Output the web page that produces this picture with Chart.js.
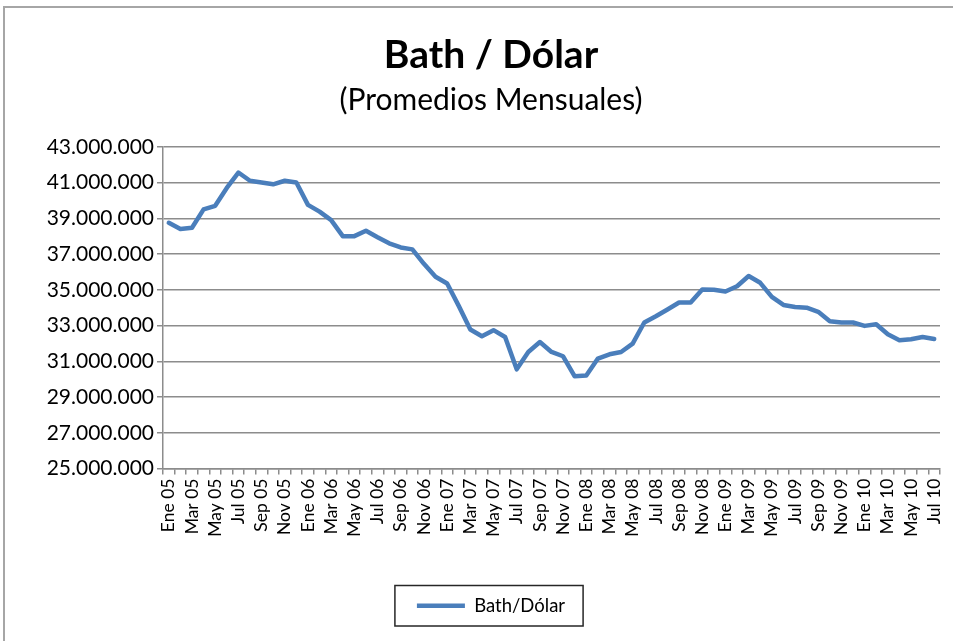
<!DOCTYPE html>
<html>
<head>
<meta charset="utf-8">
<script src="https://cdn.jsdelivr.net/npm/chart.js@4.4.1/dist/chart.umd.min.js"></script>
<style>
  html, body { margin: 0; padding: 0; background: #fff; overflow: hidden; }
  body { width: 953px; height: 641px; position: relative; }
  #frame { position: absolute; left: 3px; top: 6px; width: 1100px; height: 800px;
           border-left: 2px solid #a6a6a6; border-top: 2px solid #a6a6a6; }
  #wrap { position: absolute; left: 4px; top: 7px; width: 974px; height: 634px; }
</style>
</head>
<body>
<div id="frame"></div>
<div id="wrap"><canvas id="chart"></canvas></div>
<script>
/* Bath / Dólar, promedios mensuales Ene 05 - Jul 10 */

const months = [
    'Ene 05', 'Feb 05', 'Mar 05', 'Abr 05', 'May 05', 'Jun 05', 'Jul 05', 'Ago 05', 'Sep 05', 'Oct 05', 'Nov 05', 'Dic 05',
    'Ene 06', 'Feb 06', 'Mar 06', 'Abr 06', 'May 06', 'Jun 06', 'Jul 06', 'Ago 06', 'Sep 06', 'Oct 06', 'Nov 06', 'Dic 06',
    'Ene 07', 'Feb 07', 'Mar 07', 'Abr 07', 'May 07', 'Jun 07', 'Jul 07', 'Ago 07', 'Sep 07', 'Oct 07', 'Nov 07', 'Dic 07',
    'Ene 08', 'Feb 08', 'Mar 08', 'Abr 08', 'May 08', 'Jun 08', 'Jul 08', 'Ago 08', 'Sep 08', 'Oct 08', 'Nov 08', 'Dic 08',
    'Ene 09', 'Feb 09', 'Mar 09', 'Abr 09', 'May 09', 'Jun 09', 'Jul 09', 'Ago 09', 'Sep 09', 'Oct 09', 'Nov 09', 'Dic 09',
    'Ene 10', 'Feb 10', 'Mar 10', 'Abr 10', 'May 10', 'Jun 10', 'Jul 10',
];

const bathDolar = [
    38750000, 38400000, 38470000, 39500000, 39700000, 40700000, 41560000, 41100000, 41000000, 40900000, 41100000, 41000000,
    39750000, 39370000, 38900000, 38000000, 38000000, 38300000, 37940000, 37600000, 37370000, 37260000, 36450000, 35730000,
    35350000, 34100000, 32780000, 32400000, 32740000, 32360000, 30550000, 31520000, 32080000, 31520000, 31280000, 30160000,
    30200000, 31150000, 31390000, 31520000, 31990000, 33170000, 33520000, 33900000, 34290000, 34290000, 35020000, 35000000,
    34900000, 35200000, 35770000, 35390000, 34600000, 34150000, 34040000, 34000000, 33770000, 33240000, 33170000, 33170000,
    32980000, 33070000, 32510000, 32180000, 32230000, 32360000, 32250000,
];

const yTicks = { min: 25000000, max: 43000000, step: 2000000 };

const FONT = "Lato, 'Open Sans', sans-serif";
const GRID = '#8c8c8c';

function fmtMiles(v) {
    return String(v).replace(/\B(?=(\d{3})+(?!\d))/g, '.');
}

/* draws the black frame round the legend, like the Excel one */
const legendFrame = {
    id: 'legendFrame',
    afterDraw(chart) {
        const box = chart.legend && chart.legend.legendHitBoxes[0];
        if (!box) return;
        const ctx = chart.ctx;
        ctx.save();
        ctx.strokeStyle = '#262626';
        ctx.lineWidth = 1.5;
        ctx.strokeRect(box.left - 22, box.top - 11, box.width + 40, box.height + 22);
        ctx.restore();
    },
};

new Chart(document.getElementById('chart'), {
    type: 'line',
    data: {
        labels: months,
        datasets: [{
            label: 'Bath/Dólar',
            data: bathDolar,
            borderColor: '#4a7ebb',
            backgroundColor: '#4a7ebb',
            borderWidth: 4.5,
            pointRadius: 0,
            tension: 0,
            borderJoinStyle: 'round',
            borderCapStyle: 'round',
        }],
    },
    options: {
        responsive: true,
        maintainAspectRatio: false,
        animation: false,
        layout: { padding: { top: 0, left: 0, right: 0, bottom: 16 } },
        plugins: {
            title: {
                display: true,
                text: 'Bath / Dólar',
                color: '#000',
                font: { family: FONT, size: 39, weight: 'bold' },
                padding: { top: 25, bottom: 0 },
            },
            subtitle: {
                display: true,
                text: '(Promedios Mensuales)',
                color: '#000',
                font: { family: FONT, size: 30, weight: 'normal' },
                padding: { top: 4, bottom: 28 },
            },
            legend: {
                display: true,
                position: 'bottom',
                labels: {
                    color: '#000',
                    font: { family: FONT, size: 18.5 },
                    usePointStyle: true,
                    pointStyle: 'line',
                    pointStyleWidth: 48,
                    padding: 10,
                },
            },
            tooltip: { enabled: false },
        },
        scales: {
            x: {
                offset: true,
                grid: {
                    display: true,
                    offset: true,
                    drawOnChartArea: false,
                    drawTicks: true,
                    tickLength: 6,
                    color: GRID,
                    lineWidth: 1.5,
                },
                border: { display: true, color: GRID, width: 1.5 },
                ticks: {
                    autoSkip: false,
                    maxRotation: 90,
                    minRotation: 90,
                    color: '#000',
                    font: { family: FONT, size: 17.5 },
                    padding: 4,
                    callback: (val, i) => (i % 2 === 0 ? months[i] : ''),
                },
                afterFit: (scale) => { scale.height = 118; },
            },
            y: {
                min: yTicks.min,
                max: yTicks.max,
                grid: { color: GRID, lineWidth: 1.5, tickLength: 6 },
                border: { display: true, color: GRID, width: 1.5 },
                ticks: {
                    stepSize: yTicks.step,
                    color: '#000',
                    font: { family: FONT, size: 21 },
                    padding: 3,
                    callback: (v) => fmtMiles(v),
                },
                afterFit: (scale) => { scale.width = 159; },
            },
            yRight: {
                position: 'right',
                grid: { display: false },
                border: { display: false },
                ticks: { display: false },
                afterFit: (scale) => { scale.width = 38; },
            },
        },
    },
    plugins: [legendFrame],
});
</script>
</body>
</html>
